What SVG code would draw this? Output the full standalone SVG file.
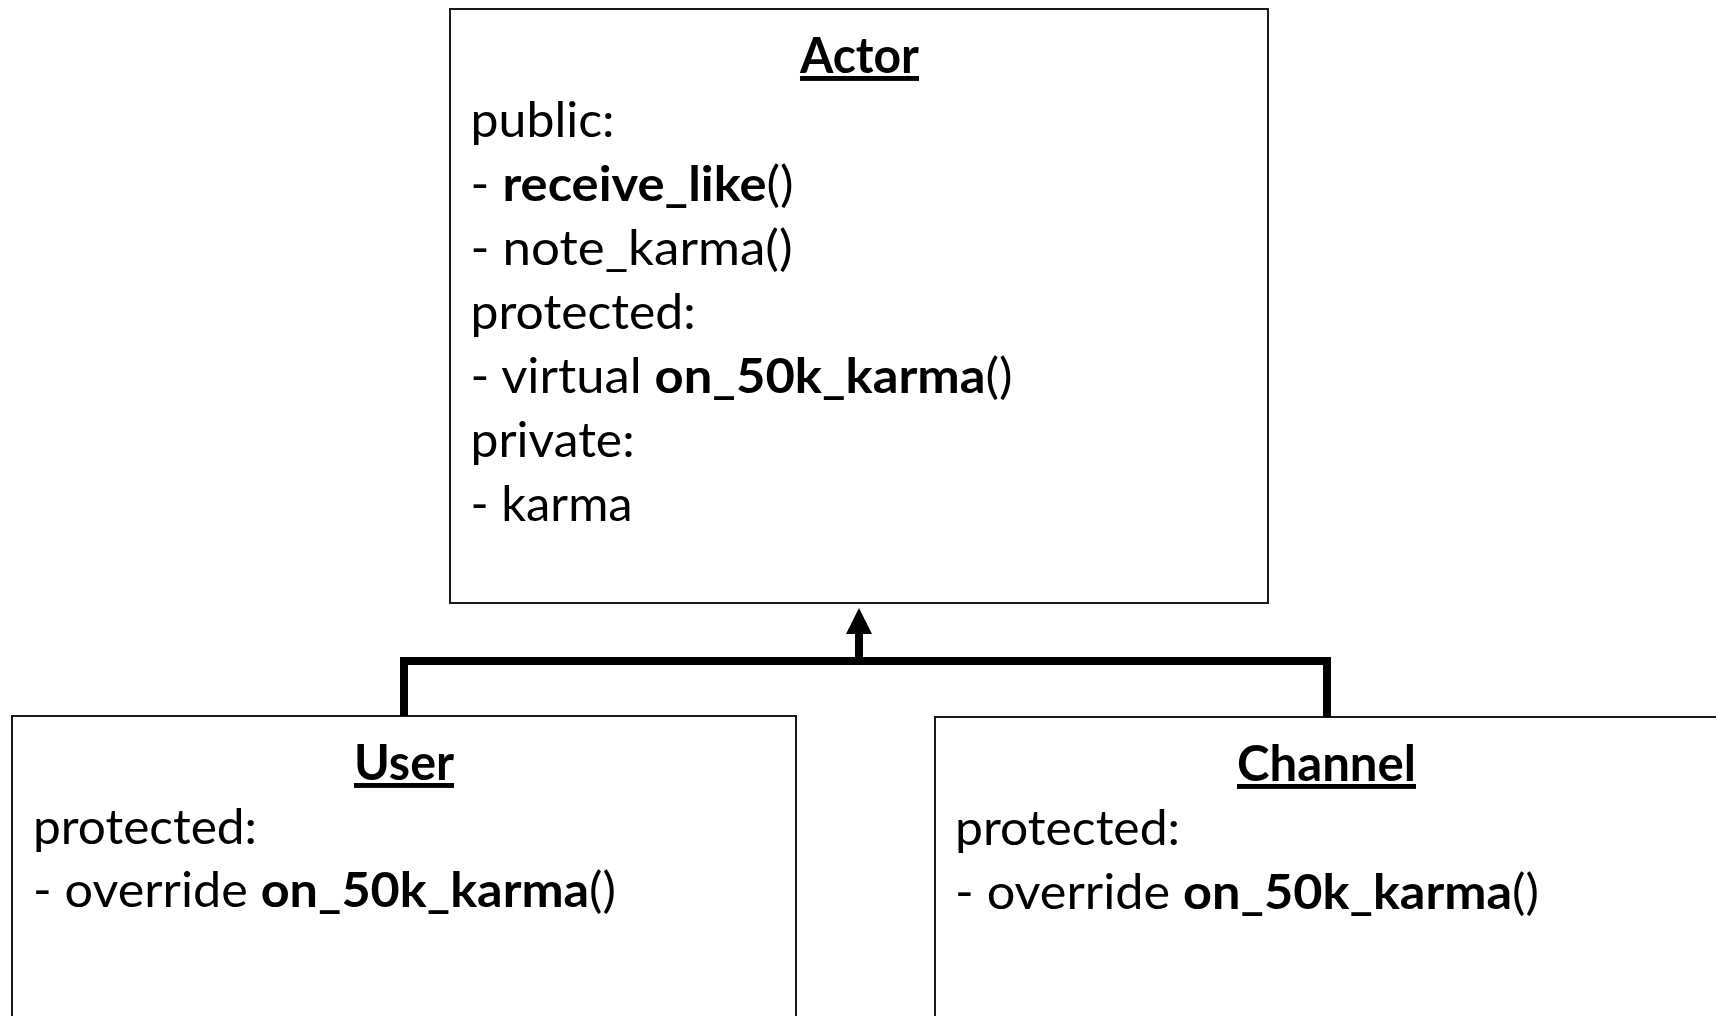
<svg xmlns="http://www.w3.org/2000/svg" width="1716" height="1016" viewBox="0 0 1716 1016">
  <style>
    .box { fill: #ffffff; stroke: #1a1a1a; stroke-width: 2; }
    .t { font-family: Lato, "Open Sans", "Liberation Sans", sans-serif; font-size: 48px; fill: #000; }
    .title { font-weight: bold; text-decoration: underline; text-anchor: middle; font-size: 49px; }
    .b { font-weight: bold; }
    .conn { fill: none; stroke: #000; stroke-width: 8; stroke-linejoin: miter; }
  </style>
  <defs>
    <marker id="arrow" markerUnits="userSpaceOnUse" markerWidth="26" markerHeight="26" viewBox="0 0 26 26" refX="1" refY="13" orient="auto">
      <path d="M0,0 L26,13 L0,26 Z" fill="#000"/>
    </marker>
  </defs>
  <rect width="1716" height="1016" fill="#ffffff"/>

  <g id="actor">
    <rect class="box" x="450" y="9" width="818" height="594"/>
    <text class="t title" x="859.5" y="73" textLength="119" lengthAdjust="spacingAndGlyphs">Actor</text>
    <text class="t" x="470.6" y="137" textLength="144" lengthAdjust="spacingAndGlyphs">public:</text>
    <text class="t" x="470.6" y="201" textLength="323" lengthAdjust="spacingAndGlyphs">- <tspan class="b">receive_like</tspan>()</text>
    <text class="t" x="470.6" y="265" textLength="322" lengthAdjust="spacingAndGlyphs">- note_karma()</text>
    <text class="t" x="470.6" y="329" textLength="225" lengthAdjust="spacingAndGlyphs">protected:</text>
    <text class="t" x="470.6" y="393" textLength="542" lengthAdjust="spacingAndGlyphs">- virtual <tspan class="b">on_50k_karma</tspan>()</text>
    <text class="t" x="470.6" y="457" textLength="164" lengthAdjust="spacingAndGlyphs">private:</text>
    <text class="t" x="470.6" y="521" textLength="162" lengthAdjust="spacingAndGlyphs">- karma</text>
  </g>

  <g id="user">
    <rect class="box" x="12" y="716" width="784" height="320"/>
    <text class="t title" x="404" y="780" textLength="100" lengthAdjust="spacingAndGlyphs">User</text>
    <text class="t" x="33" y="844" textLength="224" lengthAdjust="spacingAndGlyphs">protected:</text>
    <text class="t" x="33" y="907" textLength="583" lengthAdjust="spacingAndGlyphs">- override <tspan class="b">on_50k_karma</tspan>()</text>
  </g>

  <g id="channel">
    <rect class="box" x="935" y="717" width="800" height="320"/>
    <text class="t title" x="1326.5" y="781" textLength="179" lengthAdjust="spacingAndGlyphs">Channel</text>
    <text class="t" x="955" y="845" textLength="225" lengthAdjust="spacingAndGlyphs">protected:</text>
    <text class="t" x="955" y="909" textLength="584" lengthAdjust="spacingAndGlyphs">- override <tspan class="b">on_50k_karma</tspan>()</text>
  </g>

  <g id="connectors">
    <path class="conn" d="M404,716 V661 H1327 V717"/>
    <path class="conn" d="M859,665 V633" marker-end="url(#arrow)"/>
  </g>
</svg>
